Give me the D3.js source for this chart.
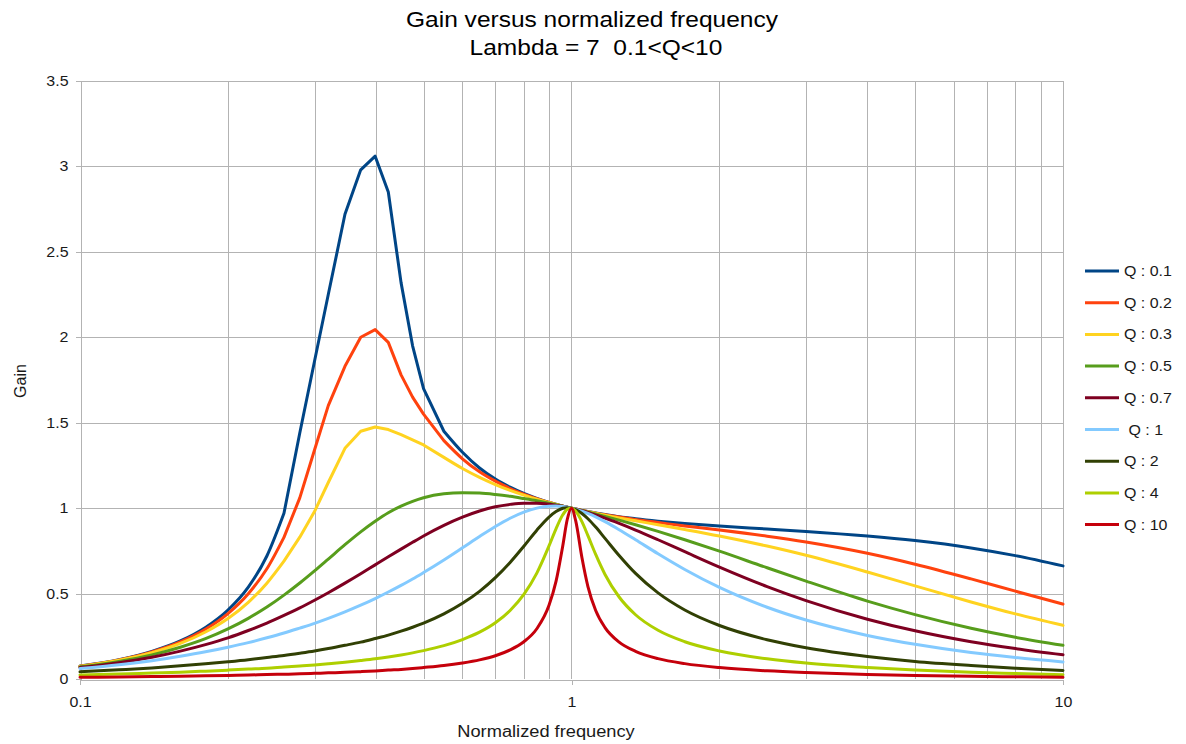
<!DOCTYPE html>
<html>
<head>
<meta charset="utf-8">
<script src="https://cdn.jsdelivr.net/npm/d3@7"></script>
<style>
  html, body { margin: 0; padding: 0; background: #ffffff; }
  svg text { font-family: "Liberation Sans", Arial, sans-serif; }
</style>
</head>
<body>
<svg id="chart" width="1186" height="744"></svg>
<script>
// Normalized frequency sample points (fn = f / fr)
const freq = [0.1, 0.12, 0.14, 0.16, 0.18, 0.2, 0.22, 0.24, 0.26, 0.28, 0.3, 0.32, 0.346, 0.3725, 0.3986, 0.4239,
  0.45, 0.475, 0.5, 0.55, 0.6, 0.65, 0.7, 0.75, 0.8, 0.85, 0.9, 0.93, 0.96, 0.98, 1, 1.02, 1.05, 1.08, 1.12, 1.17,
  1.25, 1.35, 1.5, 1.7, 2, 2.5, 3, 4, 5, 6.5, 8, 10];

// Gain for each quality factor, one value per frequency point
const gainQ01 = [0.076, 0.113, 0.162, 0.223, 0.302, 0.404, 0.538, 0.72, 0.97, 1.44, 1.86, 2.25, 2.72, 2.98, 3.06, 2.85,
  2.32, 1.95, 1.70, 1.45, 1.327, 1.235, 1.170, 1.123, 1.086, 1.057, 1.034, 1.023, 1.012, 1.006, 1.0, 0.995, 0.987, 0.980, 0.972, 0.963,
  0.950, 0.938, 0.924, 0.910, 0.895, 0.878, 0.864, 0.837, 0.810, 0.767, 0.722, 0.662];
const gainQ02 = [0.075, 0.112, 0.159, 0.217, 0.291, 0.383, 0.499, 0.645, 0.829, 1.06, 1.34, 1.60, 1.83, 2.00, 2.045, 1.97,
  1.78, 1.65, 1.55, 1.395, 1.289, 1.213, 1.158, 1.115, 1.082, 1.056, 1.034, 1.022, 1.012, 1.006, 1.0, 0.995, 0.987, 0.980, 0.971, 0.961,
  0.948, 0.933, 0.916, 0.896, 0.872, 0.836, 0.802, 0.736, 0.672, 0.586, 0.514, 0.438];
const gainQ03 = [0.074, 0.110, 0.154, 0.208, 0.275, 0.354, 0.449, 0.561, 0.690, 0.83, 0.98, 1.15, 1.35, 1.45, 1.475, 1.46,
  1.43, 1.40, 1.37, 1.297, 1.232, 1.180, 1.138, 1.104, 1.076, 1.052, 1.033, 1.022, 1.012, 1.006, 1.0, 0.994, 0.986, 0.979, 0.970, 0.959,
  0.943, 0.926, 0.903, 0.875, 0.837, 0.778, 0.724, 0.626, 0.545, 0.451, 0.381, 0.314];
const gainQ05 = [0.071, 0.103, 0.141, 0.186, 0.236, 0.293, 0.355, 0.421, 0.491, 0.562, 0.633, 0.702, 0.786, 0.861, 0.923, 0.973,
  1.012, 1.040, 1.061, 1.084, 1.090, 1.088, 1.080, 1.069, 1.056, 1.043, 1.029, 1.020, 1.011, 1.006, 1.0, 0.994, 0.986, 0.977, 0.966, 0.952,
  0.930, 0.903, 0.864, 0.815, 0.748, 0.651, 0.573, 0.456, 0.377, 0.297, 0.244, 0.197];
const gainQ07 = [0.067, 0.095, 0.127, 0.163, 0.201, 0.241, 0.284, 0.327, 0.372, 0.416, 0.461, 0.505, 0.561, 0.616, 0.668, 0.715,
  0.760, 0.800, 0.837, 0.899, 0.947, 0.983, 1.008, 1.022, 1.029, 1.029, 1.023, 1.017, 1.011, 1.006, 1.0, 0.994, 0.985, 0.975, 0.960, 0.942,
  0.911, 0.872, 0.815, 0.745, 0.655, 0.541, 0.459, 0.350, 0.282, 0.218, 0.178, 0.142];
const gainQ1 = [0.061, 0.083, 0.107, 0.133, 0.159, 0.186, 0.213, 0.241, 0.269, 0.298, 0.326, 0.355, 0.393, 0.432, 0.471, 0.509,
  0.548, 0.585, 0.623, 0.697, 0.768, 0.834, 0.893, 0.941, 0.977, 1.000, 1.011, 1.012, 1.009, 1.005, 1.0, 0.994, 0.982, 0.969, 0.949, 0.921,
  0.874, 0.815, 0.733, 0.641, 0.536, 0.420, 0.345, 0.255, 0.203, 0.155, 0.126, 0.100];
const gainQ2 = [0.042, 0.054, 0.065, 0.077, 0.089, 0.101, 0.113, 0.126, 0.138, 0.151, 0.164, 0.178, 0.197, 0.216, 0.237, 0.257,
  0.280, 0.303, 0.327, 0.381, 0.443, 0.513, 0.593, 0.682, 0.777, 0.871, 0.948, 0.980, 0.999, 1.003, 1.0, 0.991, 0.969, 0.938, 0.889, 0.823,
  0.723, 0.618, 0.504, 0.404, 0.313, 0.230, 0.183, 0.132, 0.103, 0.079, 0.063, 0.050];
const gainQ4 = [0.024, 0.029, 0.035, 0.040, 0.046, 0.052, 0.058, 0.063, 0.070, 0.076, 0.082, 0.089, 0.098, 0.108, 0.118, 0.129,
  0.141, 0.153, 0.166, 0.195, 0.231, 0.274, 0.329, 0.401, 0.495, 0.620, 0.779, 0.879, 0.961, 0.993, 1.0, 0.982, 0.921, 0.839, 0.729, 0.612,
  0.480, 0.376, 0.285, 0.218, 0.164, 0.118, 0.093, 0.067, 0.052, 0.039, 0.032, 0.025];
const gainQ10 = [0.010, 0.012, 0.014, 0.016, 0.019, 0.021, 0.023, 0.026, 0.028, 0.030, 0.033, 0.036, 0.039, 0.043, 0.047, 0.052,
  0.056, 0.061, 0.067, 0.079, 0.094, 0.112, 0.136, 0.170, 0.218, 0.294, 0.431, 0.571, 0.780, 0.932, 1.0, 0.925, 0.711, 0.541, 0.401, 0.301,
  0.216, 0.162, 0.119, 0.090, 0.067, 0.048, 0.038, 0.027, 0.021, 0.016, 0.013, 0.010];

const seriesNames = ["Q : 0.1", "Q : 0.2", "Q : 0.3", "Q : 0.5", "Q : 0.7", " Q : 1", "Q : 2", "Q : 4", "Q : 10"];
const seriesColors = ["#004586", "#ff420e", "#ffd320", "#579d1c", "#7e0021", "#83caff", "#314004", "#aecf00", "#c5000b"];
const seriesValues = [gainQ01, gainQ02, gainQ03, gainQ05, gainQ07, gainQ1, gainQ2, gainQ4, gainQ10];

const yTicks = [0, 0.5, 1, 1.5, 2, 2.5, 3, 3.5];
const xLabelTicks = [0.1, 1, 10];
const xGridTicks = [0.2, 0.3, 0.4, 0.5, 0.6, 0.7, 0.8, 0.9, 1, 2, 3, 4, 5, 6, 7, 8, 9, 10];

const titleLines = ["Gain versus normalized frequency", "Lambda = 7  0.1<Q<10"];
const xTitle = "Normalized frequency";
const yTitle = "Gain";

// ---- layout ----
const plot = { left: 80, right: 1063, top: 81, bottom: 679 };
const gridColor = "#b3b3b3";
const textColor = "#1a1a1a";
const STRETCH = 1.14;   // horizontal widening applied to the chart's lettering
const sharpRange = [8, 19]; // index span around the resonance peak joined point to point (low-Q curves)

const svg = d3.select("#chart");
svg.append("rect").attr("width", 1186).attr("height", 744).attr("fill", "#fff");

const x = d3.scaleLog().domain([0.1, 10]).range([plot.left, plot.right]);
const y = d3.scaleLinear().domain([0, 3.5]).range([plot.bottom, plot.top]);

// grid
const grid = svg.append("g").attr("stroke", gridColor).attr("stroke-width", 1).attr("shape-rendering", "crispEdges");
grid.selectAll("line.h").data(yTicks.filter(d => d > 0)).join("line")
  .attr("x1", plot.left).attr("x2", plot.right)
  .attr("y1", d => Math.round(y(d)) + 0.5).attr("y2", d => Math.round(y(d)) + 0.5);
grid.selectAll("line.v").data(xGridTicks).join("line")
  .attr("y1", plot.top).attr("y2", plot.bottom)
  .attr("x1", d => Math.round(x(d)) + 0.5).attr("x2", d => Math.round(x(d)) + 0.5);

// axes
const yAxis = svg.append("g").attr("transform", `translate(${plot.left + 0.5},0)`)
  .call(d3.axisLeft(y).tickValues(yTicks).tickSize(5).tickPadding(7).tickFormat(d3.format("")));
const xAxis = svg.append("g").attr("transform", `translate(0,${plot.bottom + 0.5})`)
  .call(d3.axisBottom(x).tickValues(xLabelTicks).tickSize(5).tickPadding(13).tickFormat(d => String(d)));
[yAxis, xAxis].forEach(a => {
  a.selectAll("path.domain").attr("stroke", gridColor).attr("shape-rendering", "crispEdges");
  a.selectAll(".tick line").attr("stroke", gridColor).attr("shape-rendering", "crispEdges");
  a.selectAll(".tick text").attr("fill", textColor).attr("font-size", 14)
    .attr("font-family", "Liberation Sans, Arial, sans-serif").classed("wide", true);
});

// series lines: smooth everywhere, except the sharp resonance peak of the low-Q curves
const pts = vals => vals.map((v, i) => [x(freq[i]), y(v)]);
const lineStraight = d3.line().curve(d3.curveLinear);
const lineSmooth = d3.line().curve(d3.curveMonotoneX);
function seriesPath(vals, i) {
  const p = pts(vals);
  if (i >= 3) return lineSmooth(p);
  const [a, b] = sharpRange;
  return lineSmooth(p.slice(0, a + 1)) + lineStraight(p.slice(a, b + 1)) + lineSmooth(p.slice(b));
}
svg.append("g").selectAll("path").data(seriesValues).join("path")
  .attr("d", (d, i) => seriesPath(d, i))
  .attr("fill", "none")
  .attr("stroke", (d, i) => seriesColors[i])
  .attr("stroke-width", 3)
  .attr("stroke-linejoin", "round")
  .attr("stroke-linecap", "round");

// titles
svg.append("g").selectAll("text").data(titleLines).join("text")
  .attr("x", (d, i) => i === 0 ? 592 : 596)
  .attr("y", (d, i) => i === 0 ? 26.5 : 55)
  .attr("text-anchor", "middle")
  .attr("font-size", 21.5)
  .attr("fill", "#000")
  .style("white-space", "pre")
  .classed("wide", true)
  .text(d => d);

svg.append("text")
  .attr("x", 546).attr("y", 737)
  .attr("text-anchor", "middle").attr("font-size", 16).attr("fill", textColor)
  .classed("wide", true)
  .text(xTitle);

svg.append("text")
  .attr("transform", "translate(26,381) rotate(-90)")
  .attr("text-anchor", "middle").attr("font-size", 16).attr("fill", textColor)
  .text(yTitle);

// legend
const legend = svg.append("g");
const rows = legend.selectAll("g").data(seriesNames).join("g")
  .attr("transform", (d, i) => `translate(0,${271 + i * 31.7})`);
rows.append("line")
  .attr("x1", 1085).attr("x2", 1119).attr("y1", 0).attr("y2", 0)
  .attr("stroke", (d, i) => seriesColors[i]).attr("stroke-width", 3);
rows.append("text")
  .attr("x", 1124).attr("y", 5)
  .attr("font-size", 14).attr("fill", textColor)
  .style("white-space", "pre")
  .classed("wide", true)
  .text(d => d);

// widen lettering horizontally
svg.selectAll("text.wide").each(function () {
  const w = this.getComputedTextLength();
  d3.select(this).attr("textLength", (w * STRETCH).toFixed(1)).attr("lengthAdjust", "spacingAndGlyphs");
});
</script>
</body>
</html>
